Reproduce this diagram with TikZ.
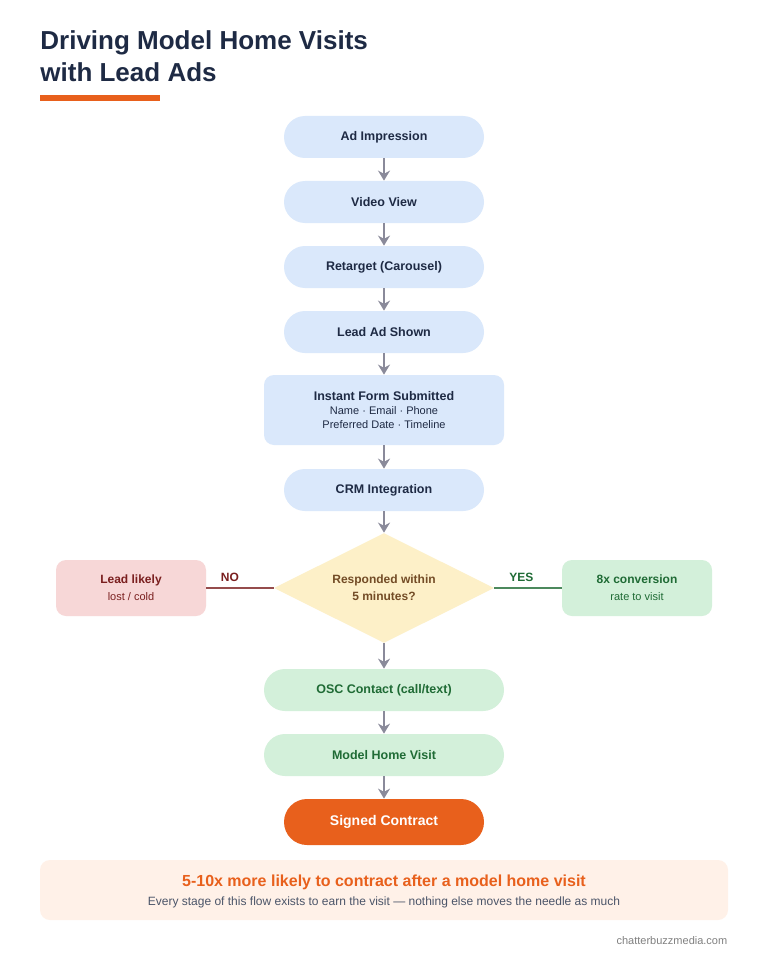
\documentclass[tikz,border=0pt]{standalone}
\usepackage{fontspec}
\setmainfont{Liberation Sans}
\usetikzlibrary{arrows.meta,shapes.geometric,positioning}
\definecolor{stepblue}{HTML}{DAE8FB}
\definecolor{stepgreen}{HTML}{D3F0DA}
\definecolor{steppink}{HTML}{F7D7D7}
\definecolor{stepyellow}{HTML}{FDF0C8}
\definecolor{accent}{HTML}{E8601C}
\definecolor{navy}{HTML}{1E2A44}
\definecolor{darkgreen}{HTML}{1F6B35}
\definecolor{darkred}{HTML}{7A1F1F}
\definecolor{arrowgray}{HTML}{8A8A9A}
\definecolor{banner}{HTML}{FFF1E8}
\begin{document}
\begin{tikzpicture}[x=1pt, y=-1pt, >=Stealth, thick,
    stage/.style = {draw=none, fill=stepblue, rounded corners=21pt, minimum width=200pt,
      minimum height=42pt, font=\fontsize{12.5}{15}\selectfont\bfseries, text=navy},
    wide/.style = {stage, minimum width=240pt},
    flow/.style = {draw=arrowgray, line width=1.5pt, -{Stealth[length=10pt,width=12pt]}},
    side/.style = {draw=none, rounded corners=10pt, minimum width=150pt, minimum height=56pt, align=center}]
    % Background and title
    \useasboundingbox (0,0) rectangle (768,960);
    \fill[white] (0,0) rectangle (768,960);
    \node[anchor=north west, align=left, inner sep=0pt, text=navy,
      font=\fontsize{26}{32}\selectfont\bfseries] (title) at (40,30) {Driving Model Home Visits\\with Lead Ads};
    \fill[accent] (40,95) rectangle (160,101);

    % Nodes
    \node[stage] (imp) at (384,137) {Ad Impression};
    \node[stage] (video) at (384,202) {Video View};
    \node[stage] (retarget) at (384,267) {Retarget (Carousel)};
    \node[stage] (leadad) at (384,332) {Lead Ad Shown};
    \node[wide, minimum height=70pt, rounded corners=10pt, align=center] (form) at (384,410)
      {Instant Form Submitted\\[-1pt]{\fontsize{11}{16}\selectfont\mdseries Name · Email · Phone}\\[-1pt]
       {\fontsize{11}{16}\selectfont\mdseries Preferred Date · Timeline}};
    \node[stage] (crm) at (384,490) {CRM Integration};
    \node[diamond, fill=stepyellow, minimum width=220pt, minimum height=110pt, inner sep=0pt,
      aspect=2, align=center, text=brown!60!black, font=\fontsize{12}{17}\selectfont\bfseries] (check) at (384,588)
      {Responded within\\5 minutes?};
    \node[side, fill=steppink, text=darkred] (lost) at (131,588)
      {{\fontsize{12}{14}\selectfont\bfseries Lead likely}\\[5pt]{\fontsize{11}{14}\selectfont lost / cold}};
    \node[side, fill=stepgreen, text=darkgreen] (conv) at (637,588)
      {{\fontsize{12}{14}\selectfont\bfseries 8x conversion}\\[5pt]{\fontsize{11}{14}\selectfont rate to visit}};
    \node[wide, fill=stepgreen, text=darkgreen] (osc) at (384,690) {OSC Contact (call/text)};
    \node[wide, fill=stepgreen, text=darkgreen] (visit) at (384,755) {Model Home Visit};
    \node[stage, fill=accent, text=white, minimum height=46pt, rounded corners=23pt,
      font=\fontsize{14}{16}\selectfont\bfseries] (signed) at (384,822) {Signed Contract};

    % Edges
    \draw[flow] (imp) -- (video);
    \draw[flow] (video) -- (retarget);
    \draw[flow] (retarget) -- (leadad);
    \draw[flow] (leadad) -- (form);
    \draw[flow] (form) -- (crm);
    \draw[flow] (crm) -- (check);
    \draw[flow] (check) -- (osc);
    \draw[flow] (osc) -- (visit);
    \draw[flow] (visit) -- (signed);
    \draw[darkred!80, line width=1.5pt] (check.west) -- node[above=2pt, pos=0.65, font=\fontsize{12}{14}\selectfont\bfseries, text=darkred] {NO} (lost.east);
    \draw[darkgreen!80, line width=1.5pt] (check.east) -- node[above=2pt, pos=0.4, font=\fontsize{12}{14}\selectfont\bfseries, text=darkgreen] {YES} (conv.west);

    % Banner and footer
    \fill[banner, rounded corners=10pt] (40,860) rectangle (728,920);
    \node[text=accent, font=\fontsize{16}{18}\selectfont\bfseries] (headline) at (384,882) {5-10x more likely to contract after a model home visit};
    \node[text=navy!80, font=\fontsize{12}{14}\selectfont, below=0pt of headline] (sub) {Every stage of this flow exists to earn the visit — nothing else moves the needle as much};
    \node[anchor=east, text=gray, font=\fontsize{11}{13}\selectfont] (credit) at (731,941) {chatterbuzzmedia.com};
\end{tikzpicture}
\end{document}
